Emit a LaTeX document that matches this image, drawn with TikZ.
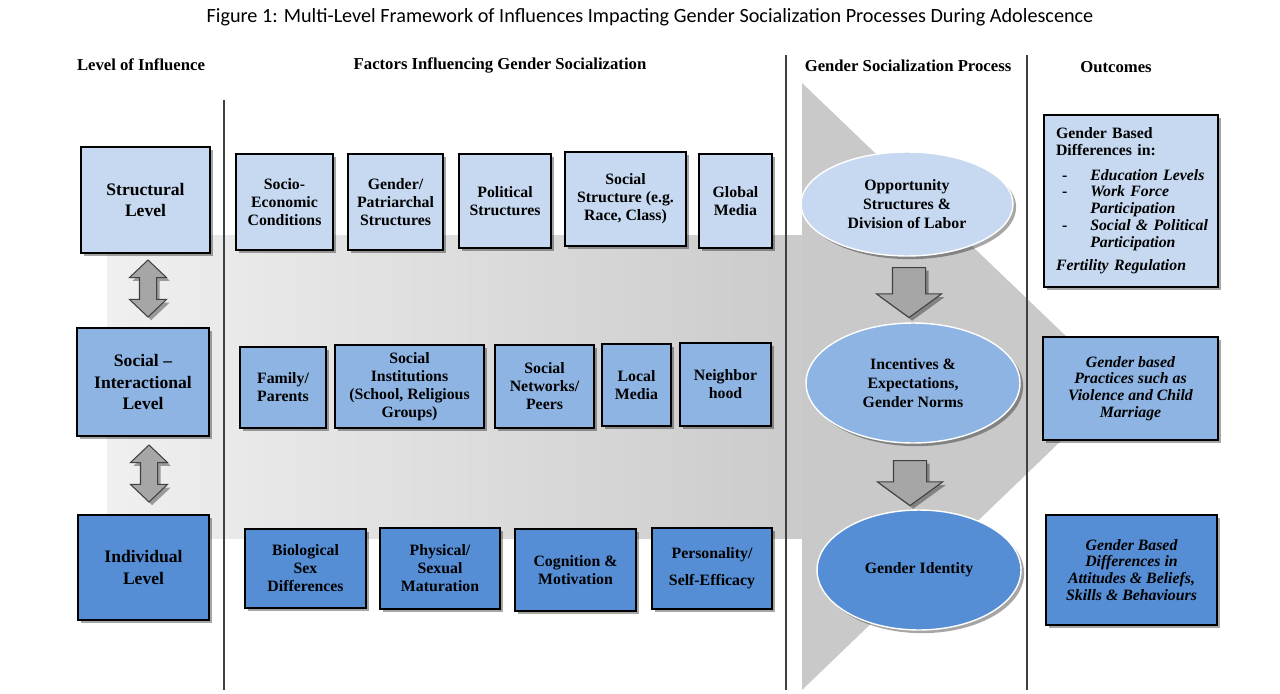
\documentclass[tikz,border=0pt]{standalone}
\usepackage{fontspec}
\setmainfont{Liberation Serif}
\newfontfamily\titlefont{Carlito}
\usepackage{xcolor}
\usetikzlibrary{shapes.geometric,shapes.arrows,shadows}

\definecolor{lightblue}{HTML}{C6D9F1}
\definecolor{midblue}{HTML}{8EB4E3}
\definecolor{darkblue}{HTML}{558ED5}
\definecolor{arrowgray}{HTML}{A6A6A6}
\newcommand{\headfont}{\fontsize{9.5}{11}\selectfont\bfseries}
\newcommand{\lvlfont}{\fontsize{10}{12}\selectfont\bfseries}
\newcommand{\factfont}{\fontsize{9}{10.2}\selectfont\bfseries}
\newcommand{\procfont}{\fontsize{9}{10.8}\selectfont\bfseries}
\newcommand{\outfont}{\fontsize{9}{9.6}\selectfont\bfseries\itshape}

\begin{document}
\begin{tikzpicture}[x=0.02cm,y=-0.02cm,
  shadowed/.style={drop shadow={shadow xshift=1.8pt,shadow yshift=-1.8pt,fill=black,opacity=.35}},
  lvlbox/.style={rectangle,draw,line width=0.8pt,align=center,font=\lvlfont,inner sep=1pt,shadowed},
  factbox/.style={rectangle,draw,line width=0.8pt,align=center,font=\factfont,inner sep=1pt,shadowed},
  procell/.style={ellipse,draw=white,line width=0.8pt,align=center,font=\procfont,inner sep=0pt,shadowed},
  outbox/.style={rectangle,draw,line width=0.8pt,align=center,font=\outfont,inner sep=1pt,shadowed},
  updown/.style={double arrow,shape border rotate=90,fill=arrowgray,draw=black!75,line width=0.6pt,
    minimum height=1.14cm,double arrow head extend=0.2cm,double arrow tip angle=93,inner sep=0.16cm,shadowed},
  downarrow/.style={single arrow,shape border rotate=270,fill=arrowgray,draw=black!75,line width=0.6pt,
    single arrow head extend=0.32cm,single arrow tip angle=108,inner sep=0.32cm,anchor=tail,shadowed},
  divider/.style={draw=black!75,line width=0.6pt}]

\useasboundingbox (0,0) rectangle (1280,693);

\shade[left color=gray!12,right color=gray!41] (107,235) rectangle (802,538);
\fill[gray!42] (802,83) -- (1118,386) -- (802,690) -- cycle;

\draw[divider] (224,100) -- (224,690);
\draw[divider] (786,55) -- (786,690);
\draw[divider] (1027,55) -- (1027,690);

\node at (650,17) (title) {\titlefont\fontsize{11.5}{13}\selectfont Figure 1: Multi-Level Framework of Influences Impacting Gender Socialization Processes During Adolescence};
\node at (141,65) [font=\headfont] (hlevel) {Level of Influence};
\node at (500,65) [font=\headfont] (hfactors) {Factors Influencing Gender Socialization};
\node at (908,66) [font=\headfont] (hprocess) {Gender Socialization Process};
\node at (1116,67) [font=\headfont] (houtcomes) {Outcomes};

\node at (145.5,200) [lvlbox,fill=lightblue,minimum width=2.58cm,minimum height=2.12cm] (structural) {Structural\\Level};
\node at (143,382) [lvlbox,fill=midblue,minimum width=2.64cm,minimum height=2.16cm] (social) {Social --\\Interactional\\Level};
\node at (143.5,567.5) [lvlbox,fill=darkblue,minimum width=2.62cm,minimum height=2.10cm] (individual) {Individual\\Level};
\node at (148,288.5) [updown] (link1) {};
\node at (149,473.5) [updown] (link2) {};

\node at (284.5,202) [factbox,fill=lightblue,minimum width=1.94cm,minimum height=1.92cm] (socioeco) {Socio-\\Economic\\Conditions};
\node at (395.5,202) [factbox,fill=lightblue,minimum width=1.90cm,minimum height=1.92cm] (patriarchal) {Gender/\\Patriarchal\\Structures};
\node at (505,201) [factbox,fill=lightblue,minimum width=1.84cm,minimum height=1.88cm] (political) {Political\\Structures};
\node at (625.5,199) [factbox,fill=lightblue,minimum width=2.42cm,minimum height=1.88cm] (socstruct) {Social\\Structure (e.g.\\Race, Class)};
\node at (735.5,201) [factbox,fill=lightblue,minimum width=1.46cm,minimum height=1.88cm] (globmedia) {Global\\Media};

\node at (283,387.5) [factbox,fill=midblue,minimum width=1.72cm,minimum height=1.62cm] (family) {Family/\\Parents};
\node at (409.5,386.5) [factbox,fill=midblue,minimum width=2.98cm,minimum height=1.66cm] (institutions) {Social\\Institutions\\(School, Religious\\Groups)};
\node at (544.5,386.5) [factbox,fill=midblue,minimum width=1.98cm,minimum height=1.66cm] (networks) {Social\\Networks/\\Peers};
\node at (636.5,385) [factbox,fill=midblue,minimum width=1.38cm,minimum height=1.64cm] (locmedia) {Local\\Media};
\node at (725.5,384.5) [factbox,fill=midblue,minimum width=1.82cm,minimum height=1.66cm] (neighbor) {Neighbor\\hood};

\node at (305.5,568.5) [factbox,fill=darkblue,minimum width=2.42cm,minimum height=1.58cm] (biological) {Biological\\Sex\\Differences};
\node at (440,568.5) [factbox,fill=darkblue,minimum width=2.40cm,minimum height=1.62cm] (physical) {Physical/\\Sexual\\Maturation};
\node at (575.5,570) [factbox,fill=darkblue,minimum width=2.42cm,minimum height=1.64cm] (cognition) {Cognition \&\\Motivation};
\node at (712,568.5) [factbox,fill=darkblue,minimum width=2.40cm,minimum height=1.62cm] (personality) {Personality/\\[5pt]Self-Efficacy};

\node at (907,204) [procell,fill=lightblue,minimum width=4.24cm,minimum height=2.08cm] (opportunity) {Opportunity\\Structures \&\\Division of Labor};
\node at (913,383) [procell,fill=midblue,minimum width=4.28cm,minimum height=2.40cm] (incentives) {Incentives \&\\Expectations,\\Gender Norms};
\node at (919,570) [procell,fill=darkblue,minimum width=4.08cm,minimum height=2.40cm] (identity) {Gender Identity};
\node at (909,267) [downarrow,minimum height=1.0cm] (step1) {};
\node at (910,460) [downarrow,minimum height=0.8cm] (step2) {};

\node at (1131,201) [outbox,fill=lightblue,minimum width=3.48cm,minimum height=3.44cm,align=left,text width=3.0cm,font=\fontsize{9}{9.6}\selectfont\bfseries] (outdiff) {Gender Based\\Differences in:\\[6pt]
\hspace*{0.12cm}\begin{tabular}{@{}l@{\hspace{0.46cm}}l@{}}
-&\textit{Education Levels}\\
-&\textit{Work Force}\\
&\textit{Participation}\\
-&\textit{Social \& Political}\\
&\textit{Participation}
\end{tabular}\\[3pt]
\textit{Fertility Regulation}};
\node at (1130.5,388.5) [outbox,fill=midblue,minimum width=3.50cm,minimum height=2.06cm] (outpractice) {Gender based\\Practices such as\\Violence and Child\\Marriage};
\node at (1131.5,570) [outbox,fill=darkblue,minimum width=3.42cm,minimum height=2.20cm] (outattitude) {Gender Based\\Differences in\\Attitudes \& Beliefs,\\Skills \& Behaviours};

\end{tikzpicture}
\end{document}
